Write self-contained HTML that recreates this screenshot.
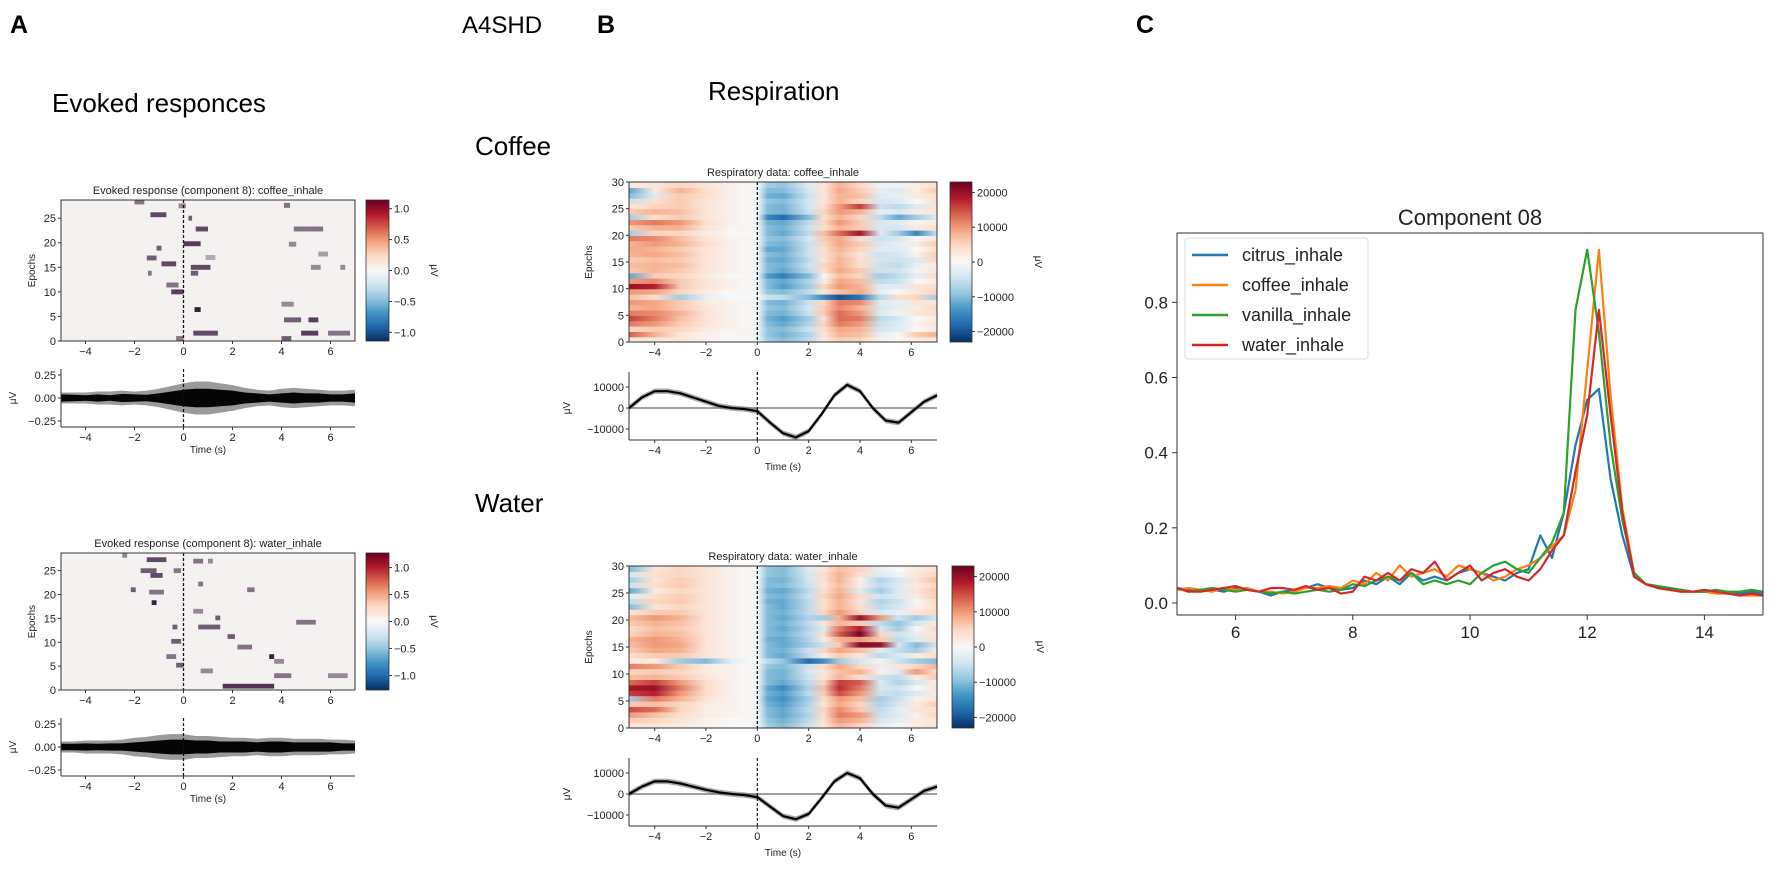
<!DOCTYPE html>
<html><head><meta charset="utf-8">
<style>
html,body{margin:0;padding:0;background:#fff;}
svg text{font-family:"Liberation Sans","DejaVu Sans",sans-serif;}
</style></head>
<body>
<svg id="fig" xmlns="http://www.w3.org/2000/svg" width="1772" height="870" viewBox="0 0 1772 870">
<defs id="defs"></defs>
<text x="10" y="33" font-size="25" font-weight="bold">A</text>
<text x="462" y="33" font-size="24">A4SHD</text>
<text x="597" y="33" font-size="25" font-weight="bold">B</text>
<text x="1136" y="33" font-size="25" font-weight="bold">C</text>
<text x="52" y="112" font-size="26">Evoked responces</text>
<text x="708" y="100" font-size="26">Respiration</text>
<text x="475" y="155" font-size="26">Coffee</text>
<text x="475" y="512" font-size="26">Water</text>
<g id="plots"></g>
</svg>
<script>
// ---------- DATA ----------
// Panel C
const compX = [5.0,5.2,5.4,5.6,5.8,6.0,6.2,6.4,6.6,6.8,7.0,7.2,7.4,7.6,7.8,8.0,8.2,8.4,8.6,8.8,9.0,9.2,9.4,9.6,9.8,10.0,10.2,10.4,10.6,10.8,11.0,11.2,11.4,11.6,11.8,12.0,12.2,12.4,12.6,12.8,13.0,13.2,13.4,13.6,13.8,14.0,14.2,14.4,14.6,14.8,15.0];
const citrusVals = [.04,.035,.03,.035,.03,.04,.035,.03,.02,.03,.035,.04,.05,.04,.035, .04,.06,.05,.07,.05,.08,.06,.07,.06,.08,.09,.08,.07,.06,.08, .09,.18,.12,.24,.42,.54,.57,.33,.18,.07, .05,.045,.04,.035,.03,.03,.03,.025,.025,.03,.025];
const coffeeVals = [.035,.04,.035,.03,.04,.035,.04,.03,.03,.025,.03,.04,.04,.045,.04, .06,.05,.08,.06,.10,.07,.08,.09,.07,.10,.09,.08,.06,.07,.09, .10,.12,.15,.18,.30,.62,.94,.55,.25,.08, .05,.04,.035,.03,.03,.03,.025,.025,.02,.02,.02];
const vanillaVals = [.04,.03,.035,.04,.035,.03,.035,.03,.025,.03,.025,.03,.035,.03,.035, .05,.045,.06,.07,.06,.08,.05,.06,.05,.06,.05,.08,.10,.11,.09, .08,.12,.16,.24,.78,.94,.72,.42,.22,.08, .05,.045,.04,.035,.03,.03,.035,.03,.03,.035,.03];
const waterVals = [.04,.03,.03,.035,.04,.045,.035,.03,.04,.04,.035,.045,.035,.04,.025, .03,.07,.06,.08,.06,.09,.08,.11,.06,.08,.10,.06,.08,.09,.07, .06,.09,.14,.18,.35,.50,.78,.50,.24,.07, .05,.04,.035,.03,.03,.035,.03,.025,.02,.025,.02];
const compNames = ["citrus_inhale","coffee_inhale","vanilla_inhale","water_inhale"];
const compTicksX = [6,8,10,12,14];
const compTicksY = [0.0,0.2,0.4,0.6,0.8];

// Panel B respiratory heatmaps (values in units of 10000 µV)
const respTimes = [-5,-4,-3,-2,-1,0,0.4,1,2,2.6,3.2,4,4.8,5.5,6.2,7];
const coffeeResp = [
[0.2,0.3,0.3,0.1,0,0,-0.8,-1.0,-0.6,0.2,0.6,0.5,0.1,0,0.2,0.3],
[1.4,0.8,0.3,0.1,0,-0.1,-0.9,-1.1,-0.7,0.3,0.8,0.7,-0.2,0,0.6,0.8],
[0.5,0.6,0.5,0.2,0.1,0,-0.9,-1.0,-0.5,0.4,0.9,0.8,-0.4,-0.3,0,0.2],
[1.2,1.0,0.6,0.3,0.1,0,-1.0,-1.2,-0.7,0.5,1.2,1.0,-0.5,-0.3,0.1,0.3],
[1.6,1.2,0.7,0.3,0.1,0,-1.1,-1.3,-0.8,0.4,1.3,1.2,-0.6,-0.4,0,0.2],
[1.2,1.1,0.8,0.3,0.1,0,-1.0,-1.1,-0.5,0.6,1.3,1.0,-0.3,-0.1,0.3,0.4],
[0.8,0.9,0.6,0.3,0.1,0,-0.9,-1.0,-0.4,0.6,1.1,0.8,-0.4,-0.2,0.2,0.5],
[1.0,0.9,0.6,0.2,0.1,0,-1.0,-1.1,-0.5,0.5,1.2,1.1,-0.3,-0.2,0.3,0.3],
[0.7,0.4,-0.8,-0.2,0,0,-0.5,-0.6,-1.0,-1.5,-2.0,-1.7,-0.6,0.4,0.5,-0.8],
[1.0,0.9,0.5,0.2,0,0,-0.9,-1.0,-0.6,0.3,0.7,0.9,-0.2,0,0.3,0.5],
[2.0,1.8,0.6,0.3,0.1,0,-1.0,-1.3,-0.8,0.5,1.0,0.8,-0.3,-0.3,0.3,0.4],
[1.0,1.1,0.6,0.3,0.1,0,-1.0,-1.2,-0.7,0.2,0.9,0.7,-0.6,-0.5,0,0.2],
[-1.2,0.6,0.5,0.2,0,0,-1.3,-1.6,-1.0,0,0.7,0.5,-0.8,-0.6,-0.2,0.4],
[0.6,0.8,0.6,0.3,0.1,0,-1.0,-1.2,-0.6,0.4,0.9,0.6,-0.5,-0.5,-0.1,0.3],
[0.7,0.8,0.7,0.3,0.1,0,-1.0,-1.1,-0.5,0.5,0.8,0.4,-0.5,-0.6,-0.2,0.2],
[0.6,0.7,0.6,0.3,0.1,0,-1.1,-1.2,-0.6,0.3,0.8,0.4,-0.4,-0.5,-0.3,0.5],
[0.8,0.9,0.7,0.3,0.1,0,-1.0,-1.1,-0.5,0.4,0.7,0.3,-0.5,-0.4,0.1,0.6],
[0.9,0.8,0.6,0.3,0.1,0,-1.2,-1.2,-0.5,0.4,0.8,0.5,-0.3,-0.3,0,0.4],
[0.8,1.0,0.8,0.4,0.1,0,-1.0,-1.1,-0.5,0.5,0.9,0.6,-0.4,-0.2,0.2,0.6],
[1.2,1.1,0.7,0.3,0.1,0,-0.9,-1.0,-0.4,0.6,0.9,0.4,-0.5,-0.4,0,0.3],
[-0.8,0.5,0.5,0.2,0,0,-1.0,-1.2,-0.6,0.7,1.3,1.9,-0.3,-0.8,-1.5,-0.5],
[0.6,0.8,0.8,0.3,0.1,0,-1.0,-1.1,-0.5,0.4,0.8,0.6,-0.4,-0.4,0.2,0.4],
[1.0,1.2,1.0,0.4,0.1,0,-1.1,-1.2,-0.6,0.5,1.0,0.6,-0.4,-0.3,0.1,0.2],
[-0.8,0.4,0.6,0.3,0.1,0,-1.5,-1.8,-1.0,0.4,0.8,0.5,-0.6,-1.2,-0.8,-0.3],
[0.6,0.8,0.7,0.3,0.1,0,-1.0,-1.1,-0.5,0.5,1.0,0.8,-0.2,-0.4,0.2,0.3],
[0.3,0.5,0.6,0.3,0.1,0,-1.0,-1.1,-0.4,0.4,1.0,1.6,-0.5,-0.6,-0.3,0.3],
[-0.5,0.4,0.6,0.3,0.1,0,-0.9,-1.0,-0.4,0.3,0.8,0.5,-0.4,-0.3,0,0.4],
[-1.0,-0.3,0.6,0.4,0.1,0,-1.1,-1.2,-0.5,0.3,0.8,0.7,-0.3,-0.2,0.2,0.4],
[-1.2,0.2,0.8,0.4,0.1,0,-1.0,-1.0,-0.4,0.3,0.9,0.6,-0.2,-0.3,0.2,0.6],
[0.2,0.3,0.5,0.3,0.1,0,-0.8,-0.9,-0.3,0.3,0.8,0.5,-0.1,-0.1,0.2,0.4]];
const waterResp = [
[0.3,0.3,0.2,0.1,0,0,-0.8,-1.0,-0.5,0.3,0.8,0.5,-0.2,0,0.2,0.3],
[0.6,0.5,0.3,0.1,0,0,-0.9,-1.1,-0.6,0.4,1.0,0.8,-0.4,-0.2,0.2,0.3],
[1.0,0.7,0.4,0.2,0.1,0,-1.0,-1.2,-0.7,0.4,1.2,1.0,-0.5,-0.3,0.1,0.5],
[1.5,1.3,0.5,0.2,0.1,0,-1.0,-1.2,-0.6,0.5,1.1,0.6,-0.6,-0.2,0.3,0.4],
[0.6,0.7,0.5,0.2,0.1,0,-1.1,-1.3,-0.7,0.3,0.9,0.5,-0.7,-0.4,0.2,0.6],
[-0.8,1.2,0.8,0.3,0.1,0,-1.2,-1.4,-0.8,0.4,1.0,0.7,-0.8,-0.5,0.1,0.3],
[1.6,1.8,1.0,0.4,0.1,0,-1.1,-1.3,-0.6,0.6,1.5,1.0,-0.5,-0.6,-0.3,0.2],
[1.9,2.0,1.2,0.4,0.1,0,-1.2,-1.5,-0.7,0.7,1.7,1.2,-0.4,-0.5,0,0.3],
[1.3,1.6,1.0,0.4,0.1,0,-1.0,-1.2,-0.6,0.5,1.6,1.4,-0.3,-0.7,-0.4,0.2],
[0.7,0.8,0.6,0.3,0.1,0,-1.0,-1.1,-0.5,0.3,0.8,0.4,-0.5,-0.6,0.2,0.6],
[0.5,0.6,0.5,0.2,0.1,0,-1.0,-1.1,-0.4,0.3,0.7,0.8,0.1,-0.3,1.0,0.4],
[1.2,1.0,0.6,0.2,0.1,0,-0.9,-1.0,-0.5,0.4,0.9,0.5,-0.2,0.3,0.5,0.8],
[0.3,0.2,-0.8,-1.0,-0.2,0,-0.6,-0.9,-1.8,-1.4,-0.8,-0.4,0.1,-0.5,-0.8,-1.0],
[0.4,0.6,0.6,0.3,0.1,0,-1.0,-1.2,-0.6,0.2,0.6,0.3,-0.6,-0.4,0.2,0.4],
[0.6,0.9,0.8,0.3,0.1,0,-1.0,-1.1,-0.5,0.5,0.9,0.7,-0.3,-0.6,-0.8,0.2],
[0.7,1.0,0.9,0.3,0.1,0,-1.0,-1.2,-0.8,-0.5,0.6,2.1,2.0,-0.4,-1.0,-0.4],
[0.8,1.0,0.8,0.3,0.1,0,-1.1,-1.2,-0.7,0.2,0.8,1.0,0.6,-0.6,-0.3,0.4],
[0.5,0.8,0.7,0.3,0.1,0,-1.0,-1.1,-0.6,0.4,1.4,2.2,0.5,-0.5,-0.2,0.3],
[0.4,0.7,0.6,0.3,0.1,0,-1.0,-1.2,-0.7,-0.3,1.2,1.8,-0.4,-0.8,0,0.5],
[0.6,0.8,0.7,0.3,0.1,0,-1.0,-1.1,-0.6,0.3,0.8,0.6,-0.6,-0.9,-0.4,0.2],
[0.7,1.0,0.8,0.3,0.1,0,-1.0,-1.2,-0.7,-0.8,0.8,2.0,1.0,-0.5,-0.8,-0.4],
[0.3,0.6,0.6,0.3,0.1,0,-1.0,-1.1,-0.6,0.5,1.0,0.5,-0.4,-0.2,0.3,0.5],
[-1.0,0.3,0.5,0.3,0.1,0,-1.0,-1.2,-0.6,0.4,0.8,0.4,-0.6,-0.4,0.1,0.4],
[-0.6,0.5,0.6,0.3,0.1,0,-1.1,-1.2,-0.6,0.4,0.8,0.3,-0.7,-0.5,0,0.5],
[-0.3,0.4,0.6,0.3,0.1,0,-1.0,-1.1,-0.5,0.5,0.9,0.4,-0.5,-0.3,0.2,0.6],
[-1.2,0.2,0.5,0.3,0.1,0,-1.1,-1.2,-0.6,0.4,0.8,-0.3,-0.8,-0.3,0.3,0.6],
[-0.5,0.4,0.6,0.3,0.1,0,-1.0,-1.0,-0.5,0.3,0.7,0.2,-0.6,-0.3,0.2,0.5],
[-0.8,0.3,0.6,0.3,0.1,0,-1.0,-1.1,-0.4,0.4,0.8,0.1,-0.7,-0.4,0.3,0.7],
[-0.4,0.4,0.5,0.3,0.1,0,-0.9,-1.0,-0.4,0.4,0.8,0.4,-0.3,-0.1,0.3,0.5],
[-1.0,0.3,0.5,0.3,0.1,0,-0.9,-1.0,-0.3,0.3,0.7,0.5,-0.2,0,0.2,0.4]];

// Panel B mean respiratory traces (µV), times every 0.5 s from -5 to 7
const traceTimes = [-5,-4.5,-4,-3.5,-3,-2.5,-2,-1.5,-1,-0.5,0,0.5,1,1.5,2,2.5,3,3.5,4,4.5,5,5.5,6,6.5,7];
const coffeeTrace = [0,5000,8000,8000,7000,5000,3000,1000,0,-500,-1500,-7000,-12000,-14000,-11000,-3000,6000,11000,8000,0,-6000,-7000,-2000,3000,6000];
const waterTrace = [0,3500,6000,6000,5000,3500,2000,800,0,-500,-1500,-6000,-10500,-12000,-9500,-2000,6000,10000,7500,0,-5500,-6500,-2500,1500,3500];

// Panel A evoked envelope half-widths (µV), times every 0.5 s
const coffeeEnvBlack = [.04,.035,.03,.04,.03,.045,.04,.035,.05,.07,.09,.10,.10,.09,.08,.06,.05,.04,.05,.06,.05,.05,.04,.04,.05];
const coffeeEnvGray = [.06,.06,.06,.07,.07,.08,.07,.08,.10,.13,.16,.18,.18,.16,.14,.11,.09,.08,.10,.11,.10,.09,.08,.08,.09];
const waterEnvBlack = [.035,.035,.04,.035,.04,.04,.05,.06,.07,.08,.08,.07,.07,.06,.06,.06,.05,.06,.06,.05,.05,.05,.05,.04,.04];
const waterEnvGray = [.06,.06,.07,.07,.07,.08,.10,.11,.13,.14,.14,.12,.12,.11,.10,.10,.09,.10,.10,.09,.09,.09,.08,.08,.07];

// Panel A evoked blobs: [tStart, tEnd, epoch, intensity]
const coffeeBlobs = [[-1.35,-0.7,25.7,.8],[0.2,0.35,25,.7],[0.5,1.0,22.8,.8],[0,0.7,19.8,.85],[-1.1,-0.9,18.9,.7],[-1.5,-1.1,16.9,.7],[-0.9,-0.3,15.7,.8],[0.3,1.1,15,.8],[0.3,0.6,13.8,.7],[-1.45,-1.3,13.8,.6],[-0.5,0,10,.85],[-0.7,-0.2,11.4,.6],[0.45,0.7,6.4,1],[0.4,1.4,1.6,.8],[-0.3,0,0.5,.6],[4.0,4.4,0.5,.7],[4.8,5.5,1.6,.85],[4.1,4.8,4.3,.7],[5.1,5.5,4.3,.85],[5.9,6.8,1.6,.6],[4.0,4.5,7.5,.5],[4.5,5.2,22.8,.6],[5.2,5.7,22.8,.6],[4.1,4.35,27.6,.6],[-2,-1.6,28.3,.6],[5.2,5.6,15,.5],[6.4,6.6,15,.5],[5.5,5.9,17.7,.4],[4.3,4.6,19.7,.5],[0.9,1.3,17,.35],[-0.2,0.1,27.5,.5]];
const waterBlobs = [[-1.5,-0.7,27.3,.8],[-1.75,-1.1,25,.7],[-1.35,-0.85,24,.8],[-0.4,-0.1,25,.6],[0.4,0.8,27,.6],[1.0,1.2,27,.5],[0.6,0.8,22.2,.6],[-2.15,-1.95,21,.7],[-1.4,-0.8,20.5,.6],[-1.3,-1.1,18.3,1],[2.6,2.9,21,.6],[0.4,0.8,16.5,.5],[1.3,1.5,15.1,.7],[4.6,5.4,14.2,.6],[-0.45,-0.25,13.2,.7],[0.6,1.5,13.2,.7],[1.8,2.1,11.2,.7],[-0.5,-0.1,10.2,.7],[2.2,2.8,9,.6],[3.5,3.7,7,1],[-0.7,-0.3,7,.6],[3.7,4.1,6,.5],[-0.3,0,5.2,.7],[0.7,1.2,4,.5],[3.7,4.4,3,.6],[5.9,6.7,3,.5],[1.6,3.7,0.8,.9],[-2.5,-2.3,28.2,.5]];

const timeTicks = [-4,-2,0,2,4,6];

// ---------- HELPERS ----------
const NS = "http://www.w3.org/2000/svg";
const root = document.getElementById('plots');
const defs = document.getElementById('defs');
function mk(tag, attrs, parent){ const e=document.createElementNS(NS,tag); for(const k in attrs) e.setAttribute(k,attrs[k]); (parent||root).appendChild(e); return e; }
function txt(x,y,s,size,anchor,parent,extra){ const e=mk('text',Object.assign({x:x,y:y,'font-size':size,'text-anchor':anchor||'start',fill:'#222'},extra||{}),parent); e.textContent=s; return e; }
function lin(d0,d1,r0,r1){ return v => r0+(v-d0)/(d1-d0)*(r1-r0); }
const rdbu=[[0,'#053061'],[0.1,'#2166ac'],[0.2,'#4393c3'],[0.3,'#92c5de'],[0.4,'#d1e5f0'],[0.5,'#f7f7f7'],[0.6,'#fddbc7'],[0.7,'#f4a582'],[0.8,'#d6604d'],[0.9,'#b2182b'],[1,'#67001f']];
function hex(h){return [parseInt(h.substr(1,2),16),parseInt(h.substr(3,2),16),parseInt(h.substr(5,2),16)];}
function cmap(p){ p=Math.max(0,Math.min(1,p)); for(let i=1;i<rdbu.length;i++){ if(p<=rdbu[i][0]){ const a=hex(rdbu[i-1][1]),b=hex(rdbu[i][1]); const f=(p-rdbu[i-1][0])/(rdbu[i][0]-rdbu[i-1][0]); return 'rgb('+a.map((v,j)=>Math.round(v+(b[j]-v)*f)).join(',')+')'; } } return rdbu[10][1]; }
let gid=0;
function colorbar(x,y0,y1,w,vmin,vmax,ticks,labels,labelX,name){
  const g=mk('g',{});
  
  
  const id='cb'+(gid++);
  const lg=mk('linearGradient',{id:id,x1:0,y1:1,x2:0,y2:0},defs);
  rdbu.forEach(s=>mk('stop',{offset:s[0],'stop-color':s[1]},lg));
  mk('rect',{x:x,y:y0,width:w,height:y1-y0,fill:'url(#'+id+')',stroke:'#333','stroke-width':0.8},g);
  const sy=lin(vmin,vmax,y1,y0);
  ticks.forEach((t,i)=>{ mk('line',{x1:x+w,x2:x+w+3,y1:sy(t),y2:sy(t),stroke:'#333'},g); txt(x+w+5,sy(t)+4,labels[i],11,'start',g); });
  txt(labelX,(y0+y1)/2,'μV',10,'middle',g,{transform:'rotate(90 '+labelX+' '+(y0+y1)/2+')'});
}
function frame(x0,y0,x1,y1,g){ mk('rect',{x:x0,y:y0,width:x1-x0,height:y1-y0,fill:'none',stroke:'#333','stroke-width':1},g); }
function xTicks(sx,y,ticks,g,size){ ticks.forEach(t=>{ mk('line',{x1:sx(t),x2:sx(t),y1:y,y2:y+3,stroke:'#333'},g); txt(sx(t),y+14,t<0?'−'+(-t):String(t),size||11,'middle',g); }); }
function yTicks(sy,x,ticks,labels,g,size){ ticks.forEach((t,i)=>{ mk('line',{x1:x-3,x2:x,y1:sy(t),y2:sy(t),stroke:'#333'},g); txt(x-5,sy(t)+4,labels[i],size||11,'end',g); }); }

// ---------- PANEL A ----------
function evokedHeat(top,bot,blobs,title,name){
  const g=mk('g',{});
  
  
  const L=61,R=355; const sx=lin(-5,7,L,R); const sy=lin(0,28.7,bot,top);
  txt((L+R)/2,top-6,title,11,'middle',g);
  mk('rect',{x:L,y:top,width:R-L,height:bot-top,fill:'#f4f1f1'},g);
  blobs.forEach(b=>{ const r=mk('rect',{x:sx(b[0]),y:sy(b[2]+0.5),width:Math.max(3,sx(b[1])-sx(b[0])),height:sy(b[2]-0.5)-sy(b[2]+0.5),fill:'rgb(60,30,65)','fill-opacity':b[3]},g);
    
     });
  mk('line',{x1:sx(0),x2:sx(0),y1:top,y2:bot,stroke:'#111','stroke-dasharray':'3,2','stroke-width':1.3},g);
  frame(L,top,R,bot,g);
  xTicks(sx,bot,timeTicks,g,11);
  yTicks(sy,L,[0,5,10,15,20,25],['0','5','10','15','20','25'],g,11);
  txt(35,(top+bot)/2,'Epochs',10,'middle',g,{transform:'rotate(-90 35 '+(top+bot)/2+')'});
}
function evokedTrace(zero,black,gray,name){
  const g=mk('g',{});
  
  
  const L=61,R=355,top=zero-29,bot=zero+29; const sx=lin(-5,7,L,R); const sy=lin(0,0.25,zero,zero-23);
  const env=(arr)=>{ const up=traceTimes.map((t,i)=>sx(t)+','+sy(arr[i])); const dn=traceTimes.map((t,i)=>sx(t)+','+sy(-arr[i])).reverse(); return up.concat(dn).join(' '); };
  mk('polygon',{points:env(gray),fill:'#9a9a9a'},g);
  mk('polygon',{points:env(black),fill:'#050505'},g);
  mk('line',{x1:sx(0),x2:sx(0),y1:top,y2:bot,stroke:'#111','stroke-dasharray':'3,2','stroke-width':1.2},g);
  mk('line',{x1:L,x2:L,y1:top,y2:bot,stroke:'#333'},g);
  mk('line',{x1:L,x2:R,y1:bot,y2:bot,stroke:'#333'},g);
  xTicks(sx,bot,timeTicks,g,11);
  yTicks(sy,L,[0.25,0,-0.25],['0.25','0.00','−0.25'],g,11);
  txt(208,bot+26,'Time (s)',10,'middle',g);
  txt(16,zero,'μV',10,'middle',g,{transform:'rotate(-90 16 '+zero+')'});
}
evokedHeat(200,341,coffeeBlobs,'Evoked response (component 8): coffee_inhale','evoked-heatmap-coffee');
colorbar(366,200,341,23,-1.14,1.14,[1,0.5,0,-0.5,-1],['1.0','0.5','0.0','−0.5','−1.0'],431,'colorbar-evoked-coffee');
evokedTrace(398,coffeeEnvBlack,coffeeEnvGray,'evoked-trace-coffee');
evokedHeat(553,690,waterBlobs,'Evoked response (component 8): water_inhale','evoked-heatmap-water');
colorbar(366,553,690,23,-1.27,1.27,[1,0.5,0,-0.5,-1],['1.0','0.5','0.0','−0.5','−1.0'],431,'colorbar-evoked-water');
evokedTrace(747,waterEnvBlack,waterEnvGray,'evoked-trace-water');

// ---------- PANEL B ----------
function respHeat(top,bot,rows,title,name){
  const g=mk('g',{});
  
  
  const L=629,R=937; const sx=lin(-5,7,L,R); const sy=lin(0,30,bot,top);
  txt((L+R)/2,top-6,title,11,'middle',g);
  rows.forEach((row,i)=>{
    const id='rg'+(gid++);
    const lg=mk('linearGradient',{id:id,x1:0,y1:0,x2:1,y2:0},defs);
    respTimes.forEach((t,j)=>mk('stop',{offset:(t+5)/12,'stop-color':cmap((row[j]+2.3)/4.6)},lg));
    const r=mk('rect',{x:L,y:sy(i+1),width:R-L,height:sy(i)-sy(i+1)+0.6,fill:'url(#'+id+')'},g);
    
    
  });
  mk('line',{x1:sx(0),x2:sx(0),y1:top,y2:bot,stroke:'#111','stroke-dasharray':'3,2','stroke-width':1.3},g);
  frame(L,top,R,bot,g);
  xTicks(sx,bot,timeTicks,g,11);
  yTicks(sy,L,[0,5,10,15,20,25,30],['0','5','10','15','20','25','30'],g,11);
  txt(592,(top+bot)/2,'Epochs',10,'middle',g,{transform:'rotate(-90 592 '+(top+bot)/2+')'});
}
function respTrace(zero,vals,name){
  const g=mk('g',{});
  
  
  const L=629,R=937,top=zero-36,bot=zero+32; const sx=lin(-5,7,L,R); const sy=lin(0,10000,zero,zero-21);
  const up=traceTimes.map((t,i)=>sx(t)+','+sy(vals[i]+1300)); const dn=traceTimes.map((t,i)=>sx(t)+','+sy(vals[i]-1300)).reverse();
  mk('polygon',{points:up.concat(dn).join(' '),fill:'#aaa'},g);
  mk('line',{x1:L,x2:R,y1:zero,y2:zero,stroke:'#666','stroke-width':1.2},g);
  const d=traceTimes.map((t,i)=>(i?'L':'M')+sx(t)+','+sy(vals[i])).join(' ');
  const p=mk('path',{d:d,fill:'none',stroke:'#000','stroke-width':2.2,'stroke-linejoin':'round'},g);
  
  
  mk('line',{x1:sx(0),x2:sx(0),y1:top,y2:bot,stroke:'#111','stroke-dasharray':'3,2','stroke-width':1.2},g);
  mk('line',{x1:L,x2:L,y1:top,y2:bot,stroke:'#333'},g);
  mk('line',{x1:L,x2:R,y1:bot,y2:bot,stroke:'#333'},g);
  xTicks(sx,bot,timeTicks,g,11);
  yTicks(sy,L,[10000,0,-10000],['10000','0','−10000'],g,11);
  txt(783,bot+30,'Time (s)',10,'middle',g);
  txt(570,zero,'μV',10,'middle',g,{transform:'rotate(-90 570 '+zero+')'});
}
respHeat(182,342,coffeeResp,'Respiratory data: coffee_inhale','resp-heatmap-coffee');
colorbar(950,182,342,22,-2.3,2.3,[2,1,0,-1,-2],['20000','10000','0','−10000','−20000'],1035,'colorbar-resp-coffee');
respTrace(408,coffeeTrace,'resp-trace-coffee');
respHeat(566,728,waterResp,'Respiratory data: water_inhale','resp-heatmap-water');
colorbar(952,566,728,22,-2.3,2.3,[2,1,0,-1,-2],['20000','10000','0','−10000','−20000'],1037,'colorbar-resp-water');
respTrace(794,waterTrace,'resp-trace-water');

// ---------- PANEL C ----------
(function(){
  const g=mk('g',{});
  
  
  const L=1177,R=1763,T=233,B=615; const sx=lin(5,15,L,R); const sy=lin(0,0.91,603,261);
  txt((L+R)/2,225,'Component 08',22,'middle',g);
  const series=[citrusVals,coffeeVals,vanillaVals,waterVals];
  const cols=['#1f77b4','#ff7f0e','#2ca02c','#d62728'];
  const cg=mk('g',{'clip-path':'url(#clipC)'},g);
  const cp=mk('clipPath',{id:'clipC'},defs); mk('rect',{x:L,y:T,width:R-L,height:B-T},cp);
  series.forEach((vals,k)=>{
    const d=compX.map((x,i)=>(i?'L':'M')+sx(x).toFixed(1)+','+sy(vals[i]).toFixed(1)).join(' ');
    const p=mk('path',{d:d,fill:'none',stroke:cols[k],'stroke-width':2.2,'stroke-linejoin':'round'},cg);
    
    
  });
  frame(L,T,R,B,g);
  compTicksX.forEach(t=>{ mk('line',{x1:sx(t),x2:sx(t),y1:B,y2:B+5,stroke:'#333'},g); txt(sx(t),B+23,String(t),17,'middle',g); });
  compTicksY.forEach(t=>{ mk('line',{x1:L-5,x2:L,y1:sy(t),y2:sy(t),stroke:'#333'},g); txt(L-9,sy(t)+6,t.toFixed(1),17,'end',g); });
  const lgd=mk('g',{});
  
  
  g.appendChild(lgd);
  mk('rect',{x:1185,y:238,width:183,height:121,rx:3,fill:'#fff',stroke:'#ddd'},lgd);
  compNames.forEach((n,k)=>{
    const y=255+k*30;
    const e=mk('g',{},lgd);
    
    
    mk('line',{x1:1192,x2:1228,y1:y,y2:y,stroke:cols[k],'stroke-width':2.4},e);
    txt(1242,y+6,n,18,'start',e);
  });
})();
</script>
</body></html>
